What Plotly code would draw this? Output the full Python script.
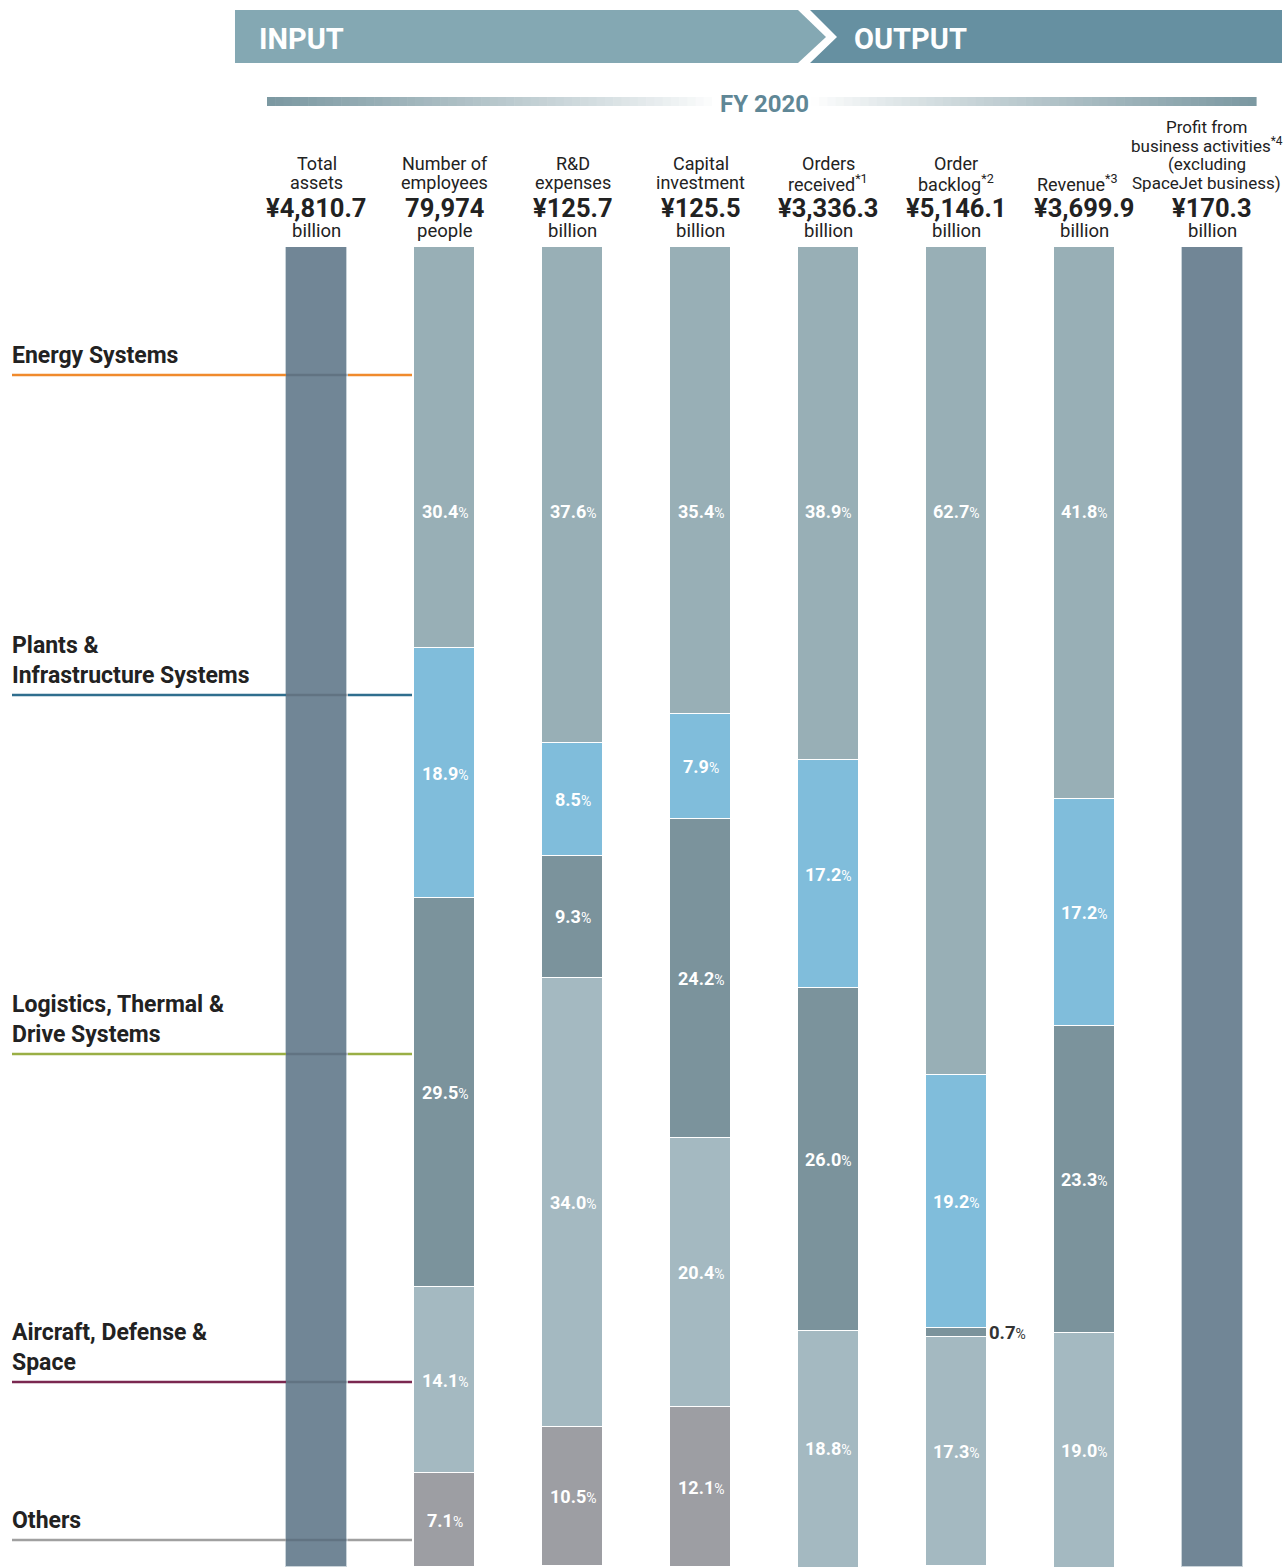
import plotly.graph_objects as go

# ---------------- data ----------------
categories = ["Total assets", "Number of employees", "R&D expenses", "Capital investment",
              "Orders received", "Order backlog", "Revenue", "Profit from business activities"]
header_labels = [
    ["Total", "assets"],
    ["Number of", "employees"],
    ["R&D", "expenses"],
    ["Capital", "investment"],
    ["Orders", "received<sup>*1</sup>"],
    ["Order", "backlog<sup>*2</sup>"],
    ["Revenue<sup>*3</sup>"],
    ["Profit from", "business activities<sup>*4</sup>", "(excluding", "SpaceJet business)"],
]
header_values = ["¥4,810.7", "79,974", "¥125.7", "¥125.5", "¥3,336.3", "¥5,146.1", "¥3,699.9", "¥170.3"]
header_units = ["billion", "people", "billion", "billion", "billion", "billion", "billion", "billion"]

segments = ["Energy Systems", "Plants & Infrastructure Systems",
            "Logistics, Thermal & Drive Systems", "Aircraft, Defense & Space", "Others"]
segment_labels = ["Energy Systems", "Plants &<br>Infrastructure Systems",
                  "Logistics, Thermal &<br>Drive Systems", "Aircraft, Defense &<br>Space", "Others"]
whole = [100, None, None, None, None, None, None, 100]
energy = [None, 30.4, 37.6, 35.4, 38.9, 62.7, 41.8, None]
plants = [None, 18.9, 8.5, 7.9, 17.2, 19.2, 17.2, None]
logistics = [None, 29.5, 9.3, 24.2, 26.0, 0.7, 23.3, None]
aircraft = [None, 14.1, 34.0, 20.4, 18.8, 17.3, 19.0, None]
others = [None, 7.1, 10.5, 12.1, None, None, None, None]
series = [energy, plants, logistics, aircraft, others]

# ---------------- style ----------------
W, H = 1287, 1567
ML, MR, MT, MB = 253, 11, 247, 0
PW, PH = W - ML - MR, H - MT - MB
FONT = "Roboto, 'Noto Sans', sans-serif"
seg_colors = ["#98afb6", "#80bddb", "#7b939c", "#a4b9c1", "#9d9ea3"]
whole_color = "#718696"
line_colors = ["#f08a2c", "#2f6e8e", "#9aaf45", "#7a2850", "#a0a0a0"]
TXT = "#222222"


def px(x):
    return (x - ML) / PW


def py(y):
    return (H - MB - y) / PH


fig = go.Figure()
x_idx = list(range(len(categories)))
bw = 0.477

fig.add_trace(go.Bar(x=x_idx, y=whole, width=bw, marker=dict(color=whole_color, line=dict(color="#c9d3d9", width=1)),
                     name="Total", showlegend=False, hoverinfo="skip"))
for name, vals, col in zip(segments, series, seg_colors):
    fig.add_trace(go.Bar(x=x_idx, y=vals, width=bw, name=name, showlegend=False,
                         marker=dict(color=col, line=dict(color="white", width=1.5))))

annotations = []
# percent labels
for ci in x_idx:
    cum = 0.0
    for si, vals in enumerate(series):
        v = vals[ci]
        if v is None:
            continue
        start, end = cum, cum + v
        cum = end
        if si == 0:
            ymid = 20.0
        else:
            ymid = (start + min(end, 100)) / 2
        txt = f"<b>{v:.1f}</b><span style='font-size:14px'>%</span>"
        if v < 3:
            annotations.append(dict(x=ci + bw / 2 + 0.005, y=(start + end) / 2, xref="x", yref="y",
                                    text=txt, showarrow=False, xanchor="left", yanchor="middle",
                                    font=dict(family=FONT, size=18.5, color="#333333")))
        else:
            annotations.append(dict(x=ci, y=ymid, xref="x", yref="y", text=txt, showarrow=False,
                                    xanchor="center", yanchor="middle",
                                    font=dict(family=FONT, size=18, color="white")))

# column headers
line_y = [183, 164, 145, 127]
for ci in x_idx:
    labs = header_labels[ci]
    n = len(labs)
    if n > 2:
        hx, fs = ci - 0.04, 17
    elif n == 1:
        hx, fs = ci - 0.055, 18
    else:
        hx, fs = ci, 18
    for k, lab in enumerate(labs):
        yy = line_y[n - 1 - k]
        annotations.append(dict(x=hx, y=py(yy), xref="x", yref="paper", text=lab, showarrow=False,
                                xanchor="center", yanchor="middle",
                                font=dict(family=FONT, size=fs, color=TXT)))
    annotations.append(dict(x=ci, y=py(208), xref="x", yref="paper", text=f"<b>{header_values[ci]}</b>",
                            showarrow=False, xanchor="center", yanchor="middle",
                            font=dict(family=FONT, size=25.5, color=TXT)))
    annotations.append(dict(x=ci, y=py(231), xref="x", yref="paper", text=header_units[ci],
                            showarrow=False, xanchor="center", yanchor="middle",
                            font=dict(family=FONT, size=18.5, color=TXT)))

shapes = []
# left segment labels and lines
seg_line_y = [375, 695, 1054, 1382, 1540]
for si, lab in enumerate(segment_labels):
    ly = seg_line_y[si]
    annotations.append(dict(x=px(10), y=py(ly - 4), xref="paper", yref="paper", text=f"<b>{lab}</b>",
                            showarrow=False, xanchor="left", yanchor="bottom", align="left",
                            font=dict(family=FONT, size=23, color=TXT)))
    for x0, x1, c in [(12, 286, line_colors[si]), (348, 412, line_colors[si])]:
        shapes.append(dict(type="line", xref="paper", yref="paper", x0=px(x0), x1=px(x1),
                           y0=py(ly), y1=py(ly), line=dict(color=c, width=2.5), layer="above"))
    shapes.append(dict(type="line", xref="paper", yref="paper", x0=px(286), x1=px(348),
                       y0=py(ly), y1=py(ly), line=dict(color="rgba(70,80,95,0.35)", width=2.5),
                       layer="above"))

# banner
in_col, out_col = "#84a8b3", "#6690a1"
def path(pts):
    return "M " + " L ".join(f"{px(a):.5f},{py(b):.5f}" for a, b in pts) + " Z"

shapes.append(dict(type="path", xref="paper", yref="paper",
                   path=path([(235, 10), (798, 10), (826, 37), (798, 63), (235, 63)]),
                   fillcolor=in_col, line=dict(width=0), layer="above"))
shapes.append(dict(type="path", xref="paper", yref="paper",
                   path=path([(810, 10), (1282, 10), (1282, 63), (810, 63), (837, 37)]),
                   fillcolor=out_col, line=dict(width=0), layer="above"))
annotations.append(dict(x=px(257), y=py(39), xref="paper", yref="paper", text="<b>INPUT</b>",
                        showarrow=False, xanchor="left", yanchor="middle",
                        font=dict(family=FONT, size=29, color="white")))
annotations.append(dict(x=px(852), y=py(39), xref="paper", yref="paper", text="<b>OUTPUT</b>",
                        showarrow=False, xanchor="left", yanchor="middle",
                        font=dict(family=FONT, size=29, color="white")))

# FY gradient bar
gx0, gx1, gc = 267, 1256, 764
dark = (0x7b, 0x98, 0xa1)
N = 120
step = (gx1 - gx0) / N
for i in range(N):
    a = gx0 + i * step
    b = a + step
    m = (a + b) / 2
    half = (gc - gx0) if m < gc else (gx1 - gc)
    t = abs(m - gc) / half
    t = max(0.0, (t - 0.1) / 0.9) ** 0.85
    col = tuple(int(round(255 * (1 - t) + d * t)) for d in dark)
    shapes.append(dict(type="rect", xref="paper", yref="paper", x0=px(a), x1=px(b + 0.6),
                       y0=py(106), y1=py(97), fillcolor=f"rgb{col}", line=dict(width=0), layer="above"))
annotations.append(dict(x=px(764), y=py(104), xref="paper", yref="paper", text="<b>FY 2020</b>",
                        showarrow=False, xanchor="center", yanchor="middle",
                        font=dict(family=FONT, size=24, color="#5f8796")))

fig.update_layout(
    width=W, height=H,
    margin=dict(l=ML, r=MR, t=MT, b=MB, pad=0),
    barmode="stack", bargap=0,
    plot_bgcolor="white", paper_bgcolor="white",
    xaxis=dict(range=[-0.5, 7.5], visible=False, fixedrange=True),
    yaxis=dict(range=[100, 0], visible=False, fixedrange=True),
    annotations=annotations, shapes=shapes,
    showlegend=False,
)
fig.write_html("out.html")
